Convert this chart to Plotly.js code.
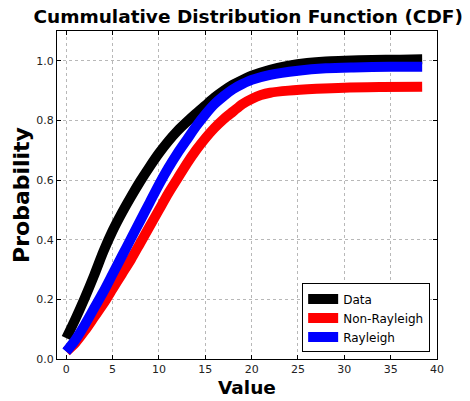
<!DOCTYPE html>
<html>
<head>
<meta charset="utf-8">
<script src="https://cdn.plot.ly/plotly-3.0.1.min.js"></script>
<style>html,body{margin:0;padding:0;background:#fff;}#chart{width:470px;height:401px;}</style>
</head>
<body>
<div id="chart"></div>
<script>
// Data
const dataX = [0,1,2,3,4,5,6,7,8,9,10,11,12,13,14,15,16,17,18,19,20,22,24,26,28,30,33,36,38.4];
const dataY = [0.07,0.135,0.205,0.28,0.36,0.43,0.49,0.545,0.597,0.645,0.69,0.73,0.765,0.795,0.823,0.85,0.877,0.9,0.92,0.936,0.95,0.97,0.984,0.993,0.998,1.0,1.003,1.004,1.005];

const rayX = [0,1,2,3,4,5,6,7,8,9,10,11,12,13,14,15,16,17,18,19,20,22,25,28,31,35,38.4];
const rayY = [0.025,0.065,0.115,0.17,0.225,0.285,0.345,0.405,0.465,0.525,0.585,0.64,0.69,0.735,0.78,0.82,0.855,0.882,0.905,0.922,0.936,0.953,0.967,0.975,0.978,0.98,0.98];

const nonX = [0,1,2,3,4,5,6,7,8,9,10,11,12,13,14,15,16,17,18,19,20,21,22,24,27,30,34,38.4];
const nonY = [0.025,0.055,0.095,0.14,0.185,0.235,0.285,0.335,0.39,0.445,0.5,0.555,0.605,0.655,0.7,0.74,0.775,0.805,0.83,0.855,0.872,0.885,0.893,0.9,0.906,0.91,0.912,0.913];

const seriesNames = ["Data", "Non-Rayleigh", "Rayleigh"];
const seriesColors = ["#000000", "#ff0000", "#0000ff"];
const xTicks = [0,5,10,15,20,25,30,35,40];
const yTicks = [0.0,0.2,0.4,0.6,0.8,1.0];
const yTickText = ["0.0","0.2","0.4","0.6","0.8","1.0"];

const xs = [dataX, nonX, rayX];
const ys = [dataY, nonY, rayY];
const traces = seriesNames.map((n, i) => ({
  x: xs[i], y: ys[i], name: n, type: 'scatter', mode: 'lines',
  line: {color: seriesColors[i], width: 10, shape: 'spline', smoothing: 0.8}
}));

const font = "DejaVu Sans, sans-serif";
const axisCommon = {
  showline: true, linecolor: '#000', linewidth: 1, mirror: 'allticks',
  ticks: 'inside', ticklen: 4, tickcolor: '#000',
  showgrid: true, gridcolor: '#b8b8b8', gridwidth: 1, griddash: 'dot',
  zeroline: false, tickfont: {family: font, size: 11, color: '#222'}
};

const layout = {
  width: 470, height: 401,
  margin: {l: 57, r: 33, t: 31, b: 42},
  paper_bgcolor: '#fff', plot_bgcolor: '#fff',
  title: {text: '<b>Cummulative Distribution Function (CDF)</b>', font: {family: font, size: 18.5, color: '#000'},
          x: 0.503, xanchor: 'center', y: 0.958, yanchor: 'middle', xref: 'paper', yref: 'container'},
  xaxis: Object.assign({}, axisCommon, {
    range: [-1, 40], tickvals: xTicks, ticktext: xTicks.map(String),
    title: {text: '<b>Value</b>', font: {family: font, size: 18.5, color: '#000'}, standoff: 5}
  }),
  yaxis: Object.assign({}, axisCommon, {
    range: [0, 1.1], tickvals: yTicks, ticktext: yTickText,
    title: {text: '<b>Probability</b>', font: {family: font, size: 22, color: '#000'}, standoff: 0}
  }),
  showlegend: true,
  legend: {x: 0.982, y: 0.02, xanchor: 'right', yanchor: 'bottom',
           bgcolor: '#fff', bordercolor: '#000', borderwidth: 1, itemwidth: 30,
           font: {family: font, size: 12, color: '#000'}, tracegroupgap: 0}
};

Plotly.newPlot('chart', traces, layout, {staticPlot: true, displayModeBar: false});
</script>
</body>
</html>
